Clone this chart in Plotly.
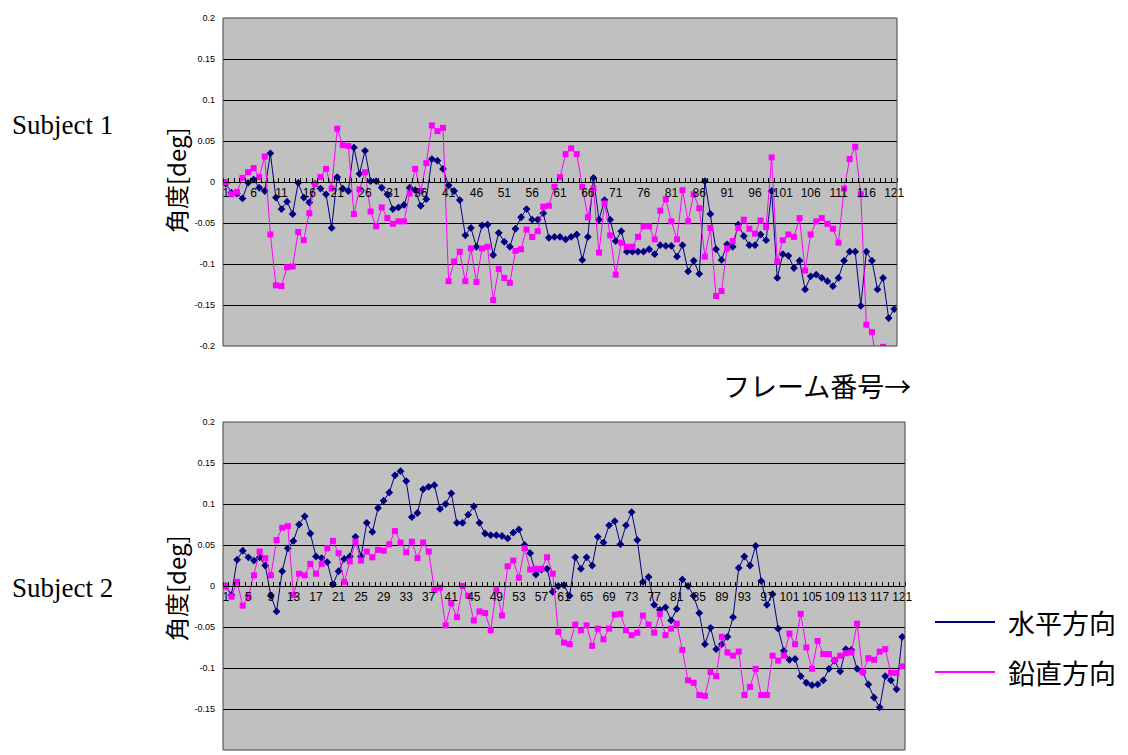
import plotly.graph_objects as go

# フレーム番号
frames = list(range(1, 122))

# Subject 1
s1_horizontal = [
    -0.002, -0.013, -0.014, -0.020, -0.001, 0.003, -0.007, -0.011, 0.035, -0.019,
    -0.033, -0.024, -0.039, -0.001, -0.019, -0.025, -0.002, -0.008, -0.015, -0.056,
    0.006, -0.008, -0.011, 0.042, 0.010, 0.038, 0.001, 0.001, -0.007, -0.015,
    -0.033, -0.031, -0.028, -0.007, -0.010, -0.029, -0.021, 0.028, 0.026, 0.016,
    -0.004, -0.011, -0.022, -0.065, -0.056, -0.079, -0.053, -0.052, -0.089, -0.062,
    -0.073, -0.079, -0.057, -0.043, -0.033, -0.046, -0.046, -0.038, -0.068, -0.067,
    -0.067, -0.070, -0.067, -0.064, -0.095, -0.067, 0.005, -0.046, -0.022, -0.046,
    -0.072, -0.060, -0.085, -0.085, -0.085, -0.085, -0.082, -0.088, -0.077, -0.078,
    -0.078, -0.091, -0.077, -0.109, -0.096, -0.112, 0.001, -0.039, -0.082, -0.095,
    -0.076, -0.079, -0.052, -0.066, -0.077, -0.077, -0.064, -0.071, -0.011, -0.117,
    -0.088, -0.090, -0.105, -0.096, -0.131, -0.115, -0.113, -0.117, -0.121, -0.127,
    -0.117, -0.096, -0.085, -0.085, -0.151, -0.085, -0.096, -0.131, -0.117, -0.166,
    -0.155,
]
s1_vertical = [
    0.000, -0.015, -0.012, 0.005, 0.012, 0.017, 0.006, 0.031, -0.064, -0.126,
    -0.127, -0.104, -0.103, -0.061, -0.071, -0.038, -0.002, 0.006, 0.016, -0.008,
    0.065, 0.045, 0.044, -0.039, -0.009, 0.012, -0.036, -0.054, -0.031, -0.044,
    -0.051, -0.048, -0.048, -0.014, 0.016, -0.011, 0.023, 0.069, 0.062, 0.066,
    -0.121, -0.097, -0.085, -0.121, -0.081, -0.122, -0.081, -0.079, -0.144, -0.106,
    -0.117, -0.123, -0.084, -0.082, -0.058, -0.067, -0.060, -0.030, -0.029, -0.006,
    0.006, 0.034, 0.041, 0.034, -0.006, -0.043, -0.008, -0.086, -0.026, -0.065,
    -0.113, -0.074, -0.079, -0.079, -0.067, -0.054, -0.054, -0.070, -0.035, -0.021,
    -0.048, -0.070, -0.010, -0.048, -0.015, -0.032, -0.091, -0.056, -0.139, -0.133,
    -0.081, -0.072, -0.056, -0.046, -0.057, -0.063, -0.047, -0.055, 0.030, -0.097,
    -0.071, -0.064, -0.067, -0.044, -0.108, -0.064, -0.048, -0.044, -0.051, -0.057,
    -0.074, -0.008, 0.028, 0.043, -0.015, -0.174, -0.183, -0.230, -0.201, -0.240,
    -0.250,
]

# Subject 2
s2_horizontal = [
    0.000, -0.011, 0.032, 0.043, 0.035, 0.031, 0.035, 0.025, -0.012, -0.031,
    0.018, 0.046, 0.055, 0.075, 0.085, 0.064, 0.036, 0.034, 0.029, 0.002,
    0.018, 0.033, 0.036, 0.060, 0.036, 0.077, 0.066, 0.095, 0.104, 0.114,
    0.135, 0.140, 0.128, 0.084, 0.089, 0.118, 0.121, 0.123, 0.094, 0.100,
    0.113, 0.077, 0.077, 0.087, 0.097, 0.077, 0.064, 0.062, 0.062, 0.061,
    0.058, 0.065, 0.069, 0.050, 0.040, 0.014, 0.020, 0.021, -0.007, 0.000,
    0.001, -0.012, 0.035, 0.021, 0.035, 0.025, 0.060, 0.053, 0.074, 0.079,
    0.051, 0.074, 0.090, 0.056, 0.005, 0.011, -0.023, -0.029, -0.026, -0.042,
    -0.028, 0.008, 0.000, -0.012, -0.033, -0.071, -0.051, -0.077, -0.071, -0.062,
    -0.038, 0.022, 0.036, 0.025, 0.049, 0.006, -0.023, -0.010, -0.052, -0.079,
    -0.090, -0.089, -0.110, -0.118, -0.121, -0.120, -0.115, -0.101, -0.091, -0.104,
    -0.077, -0.078, -0.101, -0.105, -0.120, -0.136, -0.148, -0.110, -0.115, -0.126,
    -0.062,
]
s2_vertical = [
    0.000, -0.013, 0.005, -0.024, -0.013, 0.013, 0.042, 0.034, 0.013, 0.056,
    0.071, 0.073, -0.011, 0.015, 0.013, 0.027, 0.015, 0.027, 0.046, 0.055,
    0.040, 0.005, 0.030, 0.054, 0.031, 0.042, 0.035, 0.044, 0.043, 0.051,
    0.067, 0.053, 0.041, 0.054, 0.034, 0.053, 0.042, -0.005, -0.002, -0.048,
    -0.021, -0.038, 0.000, -0.012, -0.042, -0.031, -0.033, -0.054, -0.005, -0.036,
    0.024, 0.031, 0.010, 0.046, 0.020, 0.021, 0.021, 0.035, 0.015, -0.056,
    -0.069, -0.071, -0.047, -0.054, -0.048, -0.073, -0.052, -0.065, -0.052, -0.035,
    -0.034, -0.054, -0.060, -0.057, -0.036, -0.047, -0.057, -0.034, -0.060, -0.052,
    -0.046, -0.078, -0.115, -0.118, -0.133, -0.134, -0.105, -0.110, -0.062, -0.081,
    -0.085, -0.080, -0.133, -0.123, -0.101, -0.133, -0.133, -0.085, -0.091, -0.085,
    -0.058, -0.071, -0.034, -0.075, -0.101, -0.067, -0.083, -0.083, -0.090, -0.085,
    -0.082, -0.081, -0.046, -0.105, -0.088, -0.090, -0.080, -0.077, -0.106, -0.106,
    -0.098,
]

# 軸ラベル
y_ticks = [0.2, 0.15, 0.1, 0.05, 0, -0.05, -0.1, -0.15, -0.2]
y_tick_text = ["0.2", "0.15", "0.1", "0.05", "0", "-0.05", "-0.1", "-0.15", "-0.2"]
x_ticks_1 = list(range(1, 122, 5))
x_ticks_2 = list(range(1, 122, 4))

NAVY = "#000080"
MAGENTA = "#FF00FF"
W, H = 1128, 755

# プロット領域 (pixel -> paper)
dom1_x = [223 / W, 897 / W]
dom1_y = [1 - 346 / H, 1 - 18 / H]
dom2_x = [223 / W, 905 / W]
dom2_y = [1 - 750 / H, 1 - 422 / H]

fig = go.Figure()

for xa, ya, h, v in [("x", "y", s1_horizontal, s1_vertical), ("x2", "y2", s2_horizontal, s2_vertical)]:
    fig.add_trace(go.Scatter(
        x=frames, y=h, xaxis=xa, yaxis=ya, mode="lines+markers", name="水平方向",
        line=dict(color=NAVY, width=1), marker=dict(symbol="diamond", size=6, color=NAVY),
        showlegend=False,
    ))
    fig.add_trace(go.Scatter(
        x=frames, y=v, xaxis=xa, yaxis=ya, mode="lines+markers", name="鉛直方向",
        line=dict(color=MAGENTA, width=1), marker=dict(symbol="square", size=6, color=MAGENTA),
        showlegend=False,
    ))


def x_axis(domain, ydom, ticks):
    return dict(
        domain=domain, range=[0.5, 121.5], anchor="free", position=(ydom[0] + ydom[1]) / 2,
        showline=True, linecolor="black", linewidth=1, showgrid=False, zeroline=False,
        tickmode="array", tickvals=ticks, ticktext=[str(t) for t in ticks], ticks="",
        tickfont=dict(family="Liberation Sans Narrow, Arial", size=12, color="black"),
        minor=dict(ticks="inside", tick0=0.5, dtick=1, ticklen=4, tickcolor="black", showgrid=False),
        layer="above traces", automargin=False,
    )


def y_axis(domain, anchor):
    return dict(
        domain=domain, range=[-0.2, 0.2], anchor=anchor,
        tickmode="array", tickvals=y_ticks, ticktext=y_tick_text,
        showgrid=True, gridcolor="black", gridwidth=1, zeroline=False, showline=False,
        ticks="", ticklabelstandoff=7, automargin=False,
        tickfont=dict(family="Liberation Sans Narrow, Arial", size=9, color="black"),
    )


fig.update_layout(
    width=W, height=H, margin=dict(l=0, r=0, t=0, b=0, pad=0),
    paper_bgcolor="white", plot_bgcolor="#C0C0C0", showlegend=False,
    xaxis=x_axis(dom1_x, dom1_y, x_ticks_1),
    yaxis=y_axis(dom1_y, "x"),
    xaxis2=x_axis(dom2_x, dom2_y, x_ticks_2),
    yaxis2=y_axis(dom2_y, "x2"),
)

# 枠線
for xr, yr in [("x domain", "y domain"), ("x2 domain", "y2 domain")]:
    fig.add_shape(type="rect", xref=xr, yref=yr, x0=0, x1=1, y0=0, y1=1,
                  line=dict(color="#404040", width=1))

serif = "Liberation Serif, Times New Roman, serif"
cjk = "Noto Sans CJK JP, sans-serif"

# テキスト
fig.add_annotation(text="Subject 1", x=10 / W, y=1 - 125 / H, xref="paper", yref="paper",
                   xanchor="left", yanchor="middle", showarrow=False,
                   font=dict(family=serif, size=27, color="black"))
fig.add_annotation(text="Subject 2", x=10 / W, y=1 - 588 / H, xref="paper", yref="paper",
                   xanchor="left", yanchor="middle", showarrow=False,
                   font=dict(family=serif, size=27, color="black"))
for yc in [180, 588]:
    fig.add_annotation(text="角度[deg]", x=175 / W, y=1 - yc / H, xref="paper", yref="paper",
                       xanchor="center", yanchor="middle", textangle=-90, showarrow=False,
                       font=dict(family=cjk, size=24, color="black"))
fig.add_annotation(text="フレーム番号→", x=721 / W, y=1 - 385 / H, xref="paper", yref="paper",
                   xanchor="left", yanchor="middle", showarrow=False,
                   font=dict(family=cjk, size=27, color="black"))

# 凡例
for label, color, yc in [("水平方向", NAVY, 622), ("鉛直方向", MAGENTA, 672)]:
    fig.add_shape(type="line", xref="paper", yref="paper",
                  x0=935 / W, x1=995 / W, y0=1 - yc / H, y1=1 - yc / H,
                  line=dict(color=color, width=2))
    fig.add_annotation(text=label, x=1006 / W, y=1 - yc / H, xref="paper", yref="paper",
                       xanchor="left", yanchor="middle", showarrow=False,
                       font=dict(family=cjk, size=27, color="black"))

fig.write_html("out.html", config={"displayModeBar": False},
               post_script="document.body.style.margin='0';")
